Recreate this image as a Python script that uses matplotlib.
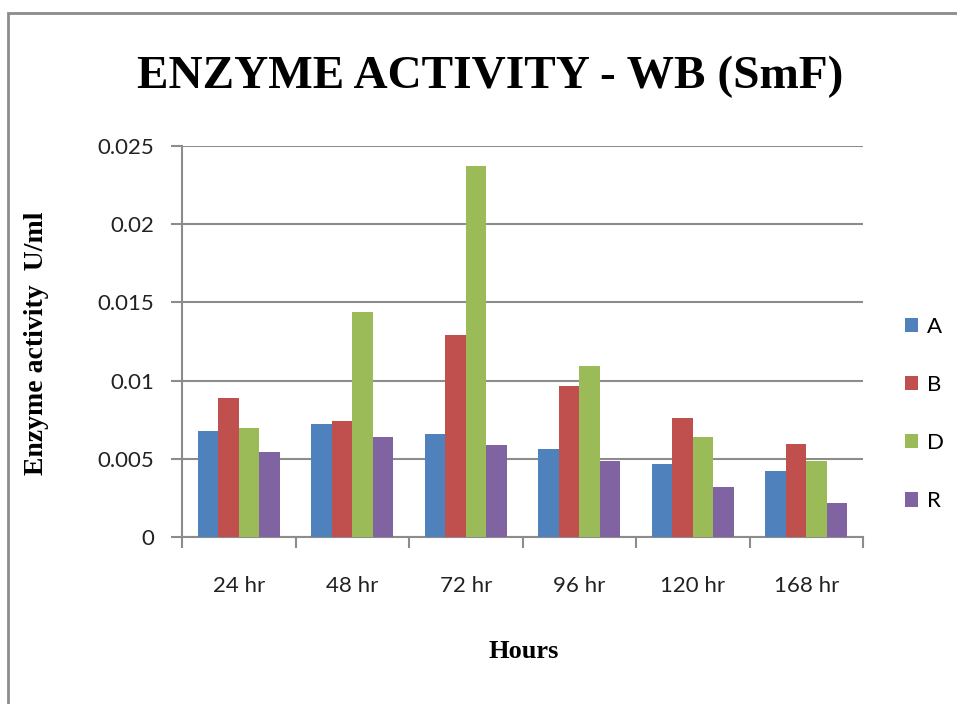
import numpy as np
import matplotlib
matplotlib.use('agg')
import matplotlib.pyplot as plt
from matplotlib.ticker import FuncFormatter, FixedLocator
from matplotlib.patches import Rectangle

hours = ['24 hr', '48 hr', '72 hr', '96 hr', '120 hr', '168 hr']
series = ['A', 'B', 'D', 'R']
A = [0.0068, 0.0072, 0.0066, 0.00565, 0.00465, 0.00424]
B = [0.0089, 0.0074, 0.0129, 0.00965, 0.00763, 0.00595]
D = [0.0070, 0.0144, 0.0237, 0.01095, 0.00642, 0.00484]
R = [0.00546, 0.00642, 0.00586, 0.00484, 0.00322, 0.0022]
colors = ['#4F81BD', '#C0504D', '#9BBB59', '#8064A2']

fig = plt.figure(figsize=(9.57, 7.04), dpi=100)
# grey frame of the chart area (cut off on right/bottom)
fig.patches.append(Rectangle((8/957, -0.05), 1.2, 1 - 13/704 + 0.05, transform=fig.transFigure,
                             fill=False, edgecolor='#8c8c8c', linewidth=2))

ax = fig.add_axes([182/957, 1 - 537/704, (863-182)/957, (537-146)/704])

x = np.arange(len(hours))
w = 0.18
for i, (vals, name) in enumerate(zip([A, B, D, R], series)):
    ax.bar(x + (i - 1.5)*w, vals, w, color=colors[i], label=name, zorder=3)

ax.set_xlim(-0.5, len(hours) - 0.5)
ax.set_ylim(0, 0.025)
ax.set_yticks(np.arange(0, 0.0251, 0.005))
ax.yaxis.set_major_formatter(FuncFormatter(lambda v, p: '%g' % round(v, 4)))
ax.grid(axis='y', color='#8c8c8c', linewidth=1.5, zorder=0)

# category boundaries get the tick marks, labels sit in between
ax.xaxis.set_major_locator(FixedLocator(np.arange(-0.5, len(hours), 1)))
ax.set_xticklabels([])
ax.set_xticks(x, minor=True)
ax.set_xticklabels(hours, minor=True)
ax.tick_params(axis='x', which='minor', length=0, pad=28)
ax.tick_params(axis='x', which='major', length=8, width=1.5, color='#8c8c8c')
ax.tick_params(axis='y', length=8, width=1.5, color='#8c8c8c', pad=12)
for lab in ax.get_xticklabels(minor=True) + ax.get_yticklabels():
    lab.set_fontfamily('Lato')
    lab.set_fontsize(16)
    lab.set_color('#222222')

for s in ['top', 'right']:
    ax.spines[s].set_visible(False)
for s in ['left', 'bottom']:
    ax.spines[s].set_color('#8c8c8c')
    ax.spines[s].set_linewidth(1.5)

fig.text(490/957, 1 - 77/704, 'ENZYME ACTIVITY - WB (SmF)', ha='center', va='center',
         fontfamily='Liberation Serif', fontweight='bold', fontsize=34)
fig.text(37/957, 1 - 343/704, 'Enzyme activity  U/ml', ha='center', va='center', rotation=90,
         fontfamily='Liberation Serif', fontweight='bold', fontsize=20)
fig.text(524/957, 1 - 652/704, 'Hours', ha='center', va='center',
         fontfamily='Liberation Serif', fontweight='bold', fontsize=19)

leg = ax.legend(loc='center left', bbox_to_anchor=(905/957, 1 - 414/704), bbox_transform=fig.transFigure,
                frameon=False, borderpad=0, borderaxespad=0, handlelength=0.6, handleheight=0.6,
                handletextpad=0.4, labelspacing=1.72, prop={'family': 'Lato', 'size': 16})

fig.savefig('out.png', dpi=100)
